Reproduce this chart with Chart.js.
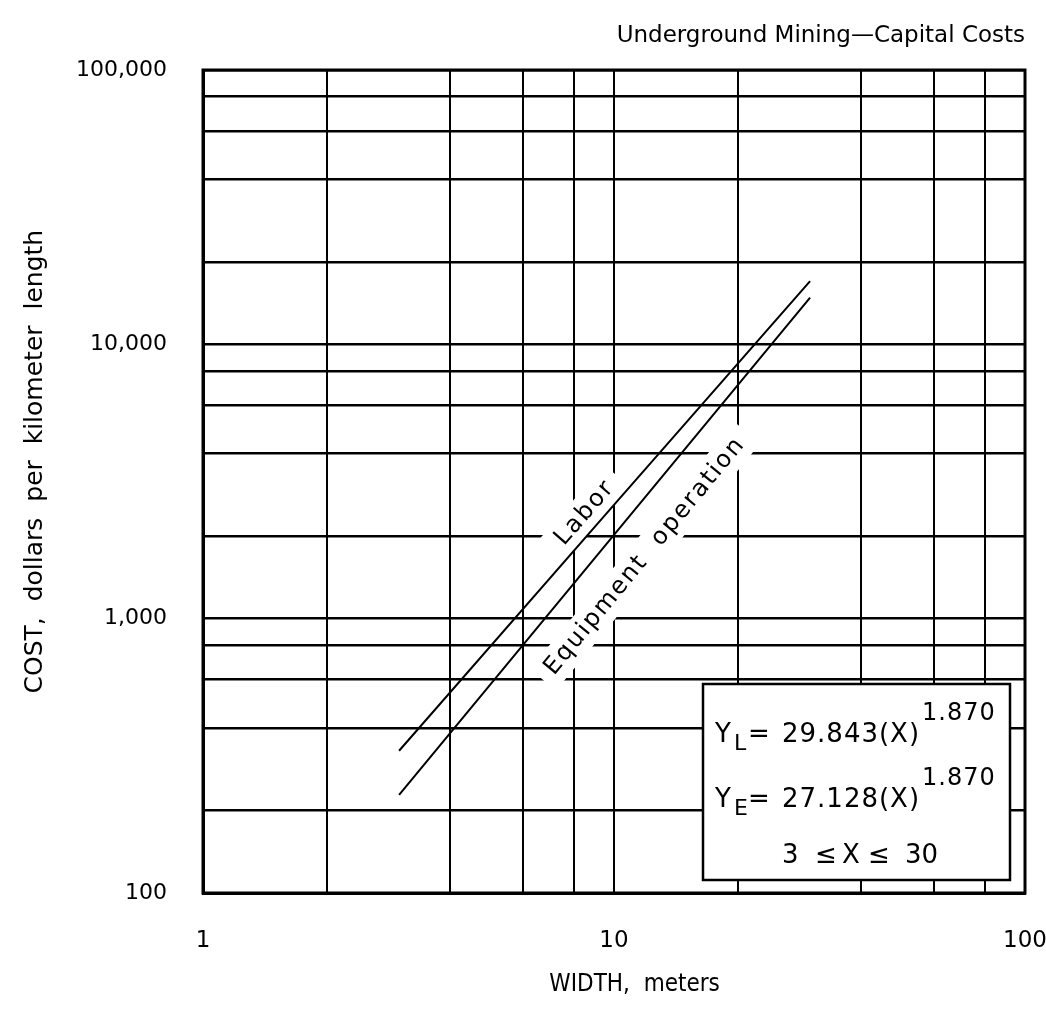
<!DOCTYPE html>
<html>
<head>
<meta charset="utf-8">
<title>Underground Mining - Capital Costs</title>
<script src="https://cdn.jsdelivr.net/npm/chart.js@4.4.1/dist/chart.umd.min.js"></script>
<style>
  html, body { margin: 0; padding: 0; background: #ffffff; }
  #wrap { width: 1046px; height: 1012px; }
</style>
</head>
<body>
<div id="wrap"><canvas id="chart" width="1046" height="1012"></canvas></div>
<script>
// Opening width (m) against capital cost per kilometre of length
const widths        = [3, 10, 30];
const laborCost     = [330, 2600, 17000];
const equipmentCost = [228, 2020, 14800];

// Grid rulings and the labelled decades on each axis
const xGridValues  = [1, 2, 4, 6, 8, 10, 20, 40, 60, 80, 100];
const yGridValues  = [100, 200, 400, 600, 800, 1000, 2000, 4000, 6000, 8000,
                      10000, 20000, 40000, 60000, 80000, 100000];
const xLabelValues = [1, 10, 100];
const xLabelTexts  = ['1', '10', '100'];
const yLabelValues = [100, 1000, 10000, 100000];
const yLabelTexts  = ['100', '1,000', '10,000', '100,000'];

// Curve names written along each line (text centre given in data units)
const curveNames   = ['Labor', 'Equipment  operation'];
const curveNameAt  = [{ x: 8.5, y: 2430 }, { x: 11.9, y: 1690 }];

// Regression box contents
const eqCoefficients = ['29.843', '27.128'];
const eqSubscripts   = ['L', 'E'];
const eqExponent     = '1.870';
const eqRange        = ['3', 'X', '30'];

const FONT = "'DejaVu Sans', 'Liberation Sans', sans-serif";
const INK = '#000000';

// Curve names on white masks that break the grid rulings beneath them
const curveNamePlugin = {
  id: 'curveNames',
  beforeDatasetsDraw(chart) {
    const { ctx, scales } = chart;
    ctx.save();
    // heavier frame on all four sides of the plot
    const a = chart.chartArea;
    ctx.strokeStyle = INK;
    ctx.lineWidth = 3;
    ctx.strokeRect(a.left, a.top, a.right - a.left, a.bottom - a.top);
    curveNames.forEach((name, i) => {
      const pts = chart.getDatasetMeta(i).data;
      const p0 = pts[0], p1 = pts[pts.length - 1];
      const ang = Math.atan2(p1.y - p0.y, p1.x - p0.x);
      const cx = scales.x.getPixelForValue(curveNameAt[i].x);
      const cy = scales.y.getPixelForValue(curveNameAt[i].y);
      ctx.save();
      ctx.translate(cx, cy);
      ctx.rotate(ang);
      ctx.font = '24px ' + FONT;
      ctx.letterSpacing = '2px';
      const w = ctx.measureText(name).width;
      ctx.fillStyle = '#ffffff';
      ctx.fillRect(-w / 2 - 10, -17, w + 20, 34);
      ctx.fillStyle = INK;
      ctx.textAlign = 'center';
      ctx.textBaseline = 'middle';
      ctx.fillText(name, 0, 0);
      ctx.restore();
    });
    ctx.restore();
  }
};

// Boxed regression equations in the lower right of the plot
const equationPlugin = {
  id: 'equationBox',
  afterDatasetsDraw(chart) {
    const { ctx } = chart;
    const a = chart.chartArea;
    const bw = 307, bh = 196;
    const bx = a.right - 15 - bw;
    const by = a.bottom - 13 - bh;
    ctx.save();
    ctx.fillStyle = '#ffffff';
    ctx.fillRect(bx, by, bw, bh);
    ctx.strokeStyle = INK;
    ctx.lineWidth = 2.5;
    ctx.strokeRect(bx, by, bw, bh);
    ctx.fillStyle = INK;
    ctx.textBaseline = 'alphabetic';
    ctx.textAlign = 'left';
    const rows = [58, 123];
    rows.forEach((base, i) => {
      const y = by + base;
      ctx.font = '26px ' + FONT;
      ctx.fillText('Y', bx + 12, y);
      ctx.font = '22px ' + FONT;
      ctx.fillText(eqSubscripts[i], bx + 31, y + 8);
      ctx.font = '26px ' + FONT;
      ctx.fillText('=', bx + 45, y);
      ctx.letterSpacing = '1px';
      ctx.fillText(eqCoefficients[i] + '(X)', bx + 79, y);
      ctx.font = '24px ' + FONT;
      ctx.fillText(eqExponent, bx + 219, y - 22);
      ctx.letterSpacing = '0px';
    });
    const y3 = by + 179;
    ctx.font = '26px ' + FONT;
    ctx.fillText(eqRange[0], bx + 79, y3);
    ctx.fillText('\u2264', bx + 112, y3);
    ctx.fillText(eqRange[1], bx + 139, y3);
    ctx.fillText('\u2264', bx + 165, y3);
    ctx.fillText(eqRange[2], bx + 202, y3);
    ctx.restore();
  }
};

const lineStyle = {
  borderColor: INK,
  borderWidth: 2,
  pointRadius: 0,
  fill: false,
  tension: 0
};

// keep the plot frame fixed regardless of how far edge labels overhang
const noOverhang = s => { s.paddingLeft = 0; s.paddingRight = 0; s.paddingTop = 0; s.paddingBottom = 0; };

new Chart(document.getElementById('chart'), {
  type: 'line',
  data: {
    datasets: [
      Object.assign({ label: 'Labor',
        data: widths.map((w, i) => ({ x: w, y: laborCost[i] })) }, lineStyle),
      Object.assign({ label: 'Equipment operation',
        data: widths.map((w, i) => ({ x: w, y: equipmentCost[i] })) }, lineStyle)
    ]
  },
  options: {
    responsive: false,
    animation: false,
    devicePixelRatio: 1,
    layout: { padding: { top: 0, right: 21, left: 0, bottom: 0 } },
    plugins: {
      legend: { display: false },
      tooltip: { enabled: false },
      title: {
        display: true,
        text: 'Underground Mining\u2014Capital Costs',
        align: 'end',
        color: INK,
        font: { family: FONT, size: 23, weight: 'normal', lineHeight: 1.2 },
        padding: { top: 22, bottom: 20.4 }
      }
    },
    scales: {
      x: {
        type: 'logarithmic',
        min: 1,
        max: 100,
        afterBuildTicks: s => { s.ticks = xGridValues.map(v => ({ value: v })); },
        afterFit: s => { s.height = 119; noOverhang(s); },
        grid: { color: INK, lineWidth: 2, drawTicks: false },
        border: { display: true, color: INK, width: 3 },
        ticks: {
          autoSkip: false,
          maxRotation: 0,
          padding: 34,
          color: INK,
          font: { family: FONT, size: 23 },
          callback: v => {
            const k = xLabelValues.indexOf(v);
            return k >= 0 ? xLabelTexts[k] : '';
          }
        },
        title: {
          display: true,
          text: '      WIDTH,  meters',
          color: INK,
          font: { family: "'DejaVu Sans Condensed', " + FONT, size: 24 },
          padding: { top: 0, bottom: 13 }
        }
      },
      y: {
        type: 'logarithmic',
        min: 100,
        max: 100000,
        afterBuildTicks: s => { s.ticks = yGridValues.map(v => ({ value: v })); },
        afterFit: s => { s.width = 203; noOverhang(s); },
        grid: { color: INK, lineWidth: 2.5, drawTicks: false },
        border: { display: true, color: INK, width: 3 },
        ticks: {
          autoSkip: false,
          padding: 36,
          color: INK,
          font: { family: FONT, size: 22 },
          callback: v => {
            const k = yLabelValues.indexOf(v);
            return k >= 0 ? yLabelTexts[k] : '';
          }
        },
        title: {
          display: true,
          text: '     COST,  dollars  per  kilometer  length',
          color: INK,
          font: { family: FONT, size: 25 },
          padding: { top: 20, bottom: 0 }
        }
      }
    }
  },
  plugins: [curveNamePlugin, equationPlugin]
});
</script>
</body>
</html>
